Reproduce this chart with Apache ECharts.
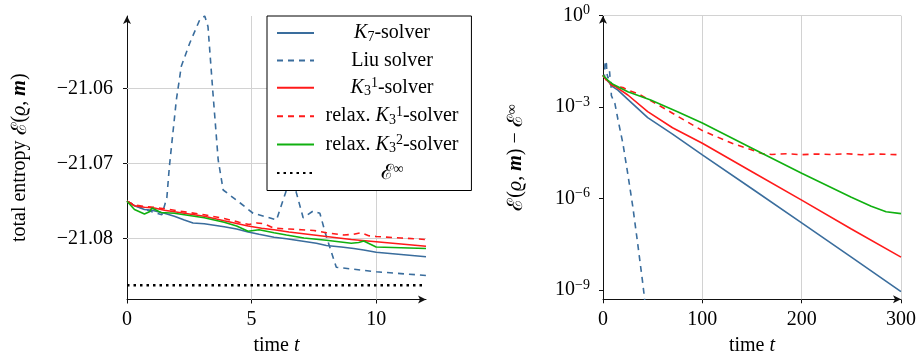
<!DOCTYPE html>
<html>
<head>
<meta charset="utf-8">
<script src="https://cdn.jsdelivr.net/npm/echarts@6/dist/echarts.min.js"></script>
<style>
  html, body { margin: 0; padding: 0; background: #fff; }
  #chart { width: 917px; height: 355px; }
</style>
</head>
<body>
<div id="chart"></div>
<script>
// ---- left panel: total entropy over time t ----
const k7Time = [0, 0.3, 0.7, 1.0, 1.5, 1.9, 2.3, 2.65, 3.1, 3.5, 3.9, 4.4, 4.86, 5.3, 5.9, 6.4, 7.0, 7.6, 8.0, 8.6, 9.1, 9.5, 10.0, 11.0, 12.0];
const k7Entropy = [-21.0750, -21.0756, -21.0761, -21.0762, -21.0766, -21.0770, -21.0775, -21.0779, -21.0780, -21.0782, -21.0784, -21.0787, -21.0791, -21.0794, -21.0798, -21.0800, -21.0803, -21.0806, -21.0809, -21.0811, -21.0813, -21.0815, -21.0818, -21.0821, -21.0824];

const liuTime = [0, 0.5, 1.0, 1.4, 1.6, 1.7, 1.98, 2.18, 2.52, 2.92, 3.12, 3.25, 3.45, 3.66, 3.86, 4.53, 5.06, 5.6, 6.0, 6.4, 6.6, 6.8, 7.07, 7.47, 7.74, 8.0, 8.4, 10.0, 12.0];
const liuEntropy = [-21.0750, -21.0758, -21.0764, -21.0768, -21.0745, -21.0704, -21.0615, -21.0570, -21.0539, -21.0508, -21.0503, -21.0517, -21.0606, -21.0695, -21.0735, -21.0752, -21.0766, -21.0771, -21.0775, -21.0735, -21.0712, -21.0739, -21.0772, -21.0763, -21.0766, -21.0797, -21.0838, -21.0844, -21.0849];

const k31Time = [0, 0.3, 0.7, 1.1, 1.5, 1.9, 2.5, 3.1, 3.9, 4.86, 5.4, 5.9, 6.5, 7.0, 8.0, 9.0, 10.0, 11.0, 12.0];
const k31Entropy = [-21.0750, -21.0756, -21.0758, -21.0759, -21.0762, -21.0764, -21.0767, -21.0770, -21.0776, -21.0783, -21.0786, -21.0788, -21.0791, -21.0793, -21.0797, -21.0801, -21.0804, -21.0807, -21.0810];

const rk31Time = [0, 0.3, 0.7, 1.1, 1.5, 1.9, 2.5, 3.1, 3.9, 4.5, 4.9, 5.2, 5.5, 5.9, 6.5, 7.0, 7.5, 8.0, 8.7, 9.1, 9.4, 9.7, 10.0, 11.0, 12.0];
const rk31Entropy = [-21.0750, -21.0755, -21.0757, -21.0758, -21.0760, -21.0762, -21.0765, -21.0768, -21.0773, -21.0778, -21.0781, -21.0779, -21.0780, -21.0786, -21.0787, -21.0788, -21.0789, -21.0792, -21.0795, -21.0794, -21.0792, -21.0796, -21.0797, -21.0799, -21.0801];

const rk32Time = [0, 0.3, 0.7, 0.9, 1.0, 1.36, 1.9, 2.5, 3.1, 3.9, 4.4, 4.86, 5.3, 5.9, 6.4, 7.1, 8.0, 9.0, 9.3, 9.5, 10.0, 11.0, 12.0];
const rk32Entropy = [-21.0750, -21.0761, -21.0767, -21.0764, -21.0759, -21.0765, -21.0766, -21.0769, -21.0772, -21.0778, -21.0783, -21.0790, -21.0788, -21.0792, -21.0795, -21.0799, -21.0802, -21.0806, -21.0805, -21.0803, -21.0811, -21.0812, -21.0813];

const limitTime = [0, 12];
const limitEntropy = [-21.0862, -21.0862];

const leftXTicks = [0, 5, 10];
const leftYTicks = [-21.08, -21.07, -21.06];

// ---- right panel: entropy minus limit, log scale ----
const k7LogTime = [0, 5, 10, 15, 25, 45, 70, 100, 150, 200, 250, 300];
const k7Gap = [1.1e-2, 7.1e-3, 4.6e-3, 3.6e-3, 1.8e-3, 4.5e-4, 1.3e-4, 2.7e-5, 2.1e-6, 1.6e-7, 1.2e-8, 8.9e-10];

const liuLogTime = [0, 1.4, 2.0, 2.5, 3.1, 3.5, 3.9, 4.5, 5, 6, 6.6, 7.1, 7.5, 8, 8.4, 10, 12, 15, 20, 25, 30, 35, 40, 44];
const liuGap = [1.12e-2, 9.3e-3, 2.45e-2, 3.3e-2, 3.5e-2, 2.6e-2, 1.26e-2, 1.07e-2, 8.9e-3, 8.7e-3, 1.5e-2, 9.1e-3, 1.0e-2, 6.5e-3, 2.4e-3, 1.8e-3, 1.3e-3, 4.0e-4, 6.5e-5, 6.3e-6, 5.4e-7, 3.2e-8, 1.7e-9, 1.3e-10];

const k31LogTime = [0, 5, 10, 25, 45, 70, 100, 150, 200, 250, 300];
const k31Gap = [1.1e-2, 7.1e-3, 5.4e-3, 2.5e-3, 7.1e-4, 2.1e-4, 6.5e-5, 7.6e-6, 8.9e-7, 1.0e-7, 1.2e-8];

const rk31LogTime = [0, 5, 10, 15, 20, 25, 35, 50, 70, 100, 130, 150, 160, 170, 185, 200, 215, 230, 245, 260, 275, 290, 300];
const rk31Gap = [1.1e-2, 6.3e-3, 5.0e-3, 4.7e-3, 4.4e-3, 3.6e-3, 2.8e-3, 1.5e-3, 6.3e-4, 1.7e-4, 6.5e-5, 3.9e-5, 3.0e-5, 2.8e-5, 2.95e-5, 2.75e-5, 2.9e-5, 2.8e-5, 2.95e-5, 2.75e-5, 2.9e-5, 2.8e-5, 2.75e-5];

const rk32LogTime = [0, 5, 10, 25, 48, 75, 100, 150, 200, 250, 270, 285, 300];
const rk32Gap = [1.1e-2, 7.6e-3, 5.6e-3, 3.2e-3, 1.7e-3, 7.1e-4, 3.0e-4, 4.5e-5, 6.8e-6, 1.1e-6, 5.6e-7, 3.7e-7, 3.2e-7];

const rightXTicks = [0, 100, 200, 300];
const rightYTicks = [1e-9, 1e-6, 1e-3, 1];

const BLUE = '#3a6d9d';
const RED = '#ff1a1a';
const GREEN = '#10b010';
const SERIF = '"Liberation Serif", "DejaVu Serif", serif';
const FS = 20;

const zip = (xs, ys) => xs.map((x, i) => [x, ys[i]]);

const rich = {
  t: { fontFamily: SERIF, fontSize: FS, lineHeight: 22, color: '#000', align: 'center' },
  i: { fontFamily: SERIF, fontSize: FS, lineHeight: 22, fontStyle: 'italic', color: '#000', align: 'center' },
  b: { fontFamily: SERIF, fontSize: FS, lineHeight: 22, fontStyle: 'italic', fontWeight: 'bold', color: '#000', align: 'center' },
  s: { fontFamily: SERIF, fontSize: FS + 1, lineHeight: 22, color: '#000', align: 'center' },
  sub: { fontFamily: SERIF, fontSize: 14, verticalAlign: 'bottom', color: '#000', align: 'center' },
  sup: { fontFamily: SERIF, fontSize: 14, verticalAlign: 'top', color: '#000', align: 'center' }
};

const legendNames = {
  'K7': '{i|K}{sub|7}{t|-solver}',
  'Liu': '{t|Liu solver}',
  'K31': '{i|K}{sub|3}{sup|1}{t|-solver}',
  'rK31': '{t|relax. }{i|K}{sub|3}{sup|1}{t|-solver}',
  'rK32': '{t|relax. }{i|K}{sub|3}{sup|2}{t|-solver}',
  'Einf': '{s|ℰ}{sup|∞}'
};

const gridLine = (lines) => ({
  silent: true,
  symbol: ['none', 'none'],
  label: { show: false },
  z: 1,
  animation: false,
  lineStyle: { color: '#d2d2d2', width: 1, type: 'solid' },
  data: lines
});

const axisCommon = {
  axisLine: { show: true, onZero: false, symbol: ['none', 'arrow'], symbolSize: [6, 8], lineStyle: { color: '#111', width: 1 } },
  splitLine: { show: false },
  nameTextStyle: { rich: rich }
};

function line(name, data, color, type, width, x) {
  return {
    name: name, type: 'line', data: data, xAxisIndex: x, yAxisIndex: x,
    symbol: 'none', showSymbol: false, z: 2,
    lineStyle: { color: color, width: width, type: type },
    itemStyle: { color: color }
  };
}

const limitSeries = line('Einf', zip(limitTime, limitEntropy), '#000', [2.5, 4], 2.6, 0);
limitSeries.markLine = gridLine(
  leftXTicks.filter(v => v > 0).map(v => ({ xAxis: v })).concat(leftYTicks.map(v => ({ yAxis: v })))
);
limitSeries.z = 3;

const rightGridSeries = line('K7', zip(k7LogTime, k7Gap), BLUE, 'solid', 1.6, 1);
rightGridSeries.markLine = gridLine(
  rightXTicks.filter(v => v > 0).map(v => ({ xAxis: v })).concat(rightYTicks.map(v => ({ yAxis: v })))
);

const tickLabel = { fontFamily: SERIF, fontSize: FS, color: '#000' };

const option = {
  animation: false,
  backgroundColor: '#fff',
  grid: [
    { left: 127, top: 16, width: 299, height: 283.5, outerBoundsMode: 'none' },
    { left: 603, top: 15.7, width: 298, height: 283.6, outerBoundsMode: 'none' }
  ],
  xAxis: [
    Object.assign({}, axisCommon, {
      type: 'value', gridIndex: 0, min: 0, max: 12,
      name: '{t|time }{i|t}', nameLocation: 'middle', nameGap: 35,
      axisTick: { customValues: leftXTicks, length: 4, lineStyle: { color: '#111' } },
      axisLabel: Object.assign({ customValues: leftXTicks, margin: 10 }, tickLabel)
    }),
    Object.assign({}, axisCommon, {
      type: 'value', gridIndex: 1, min: 0, max: 300,
      name: '{t|time }{i|t}', nameLocation: 'middle', nameGap: 35,
      axisTick: { customValues: rightXTicks, length: 4, lineStyle: { color: '#111' } },
      axisLabel: Object.assign({ customValues: rightXTicks, margin: 10 }, tickLabel)
    })
  ],
  yAxis: [
    Object.assign({}, axisCommon, {
      type: 'value', gridIndex: 0, min: -21.0881, max: -21.0503,
      name: '{t|total entropy }{s|ℰ}{t|(}{i|ϱ}{t|, }{b|m}{t|)}', nameLocation: 'middle', nameGap: 96,
      axisTick: { customValues: leftYTicks, length: 4, lineStyle: { color: '#111' } },
      axisLabel: Object.assign({
        customValues: leftYTicks, margin: 14,
        formatter: v => '−' + Math.abs(v).toFixed(2)
      }, tickLabel)
    }),
    Object.assign({}, axisCommon, {
      type: 'log', logBase: 10, gridIndex: 1, min: 4.95e-10, max: 1,
      name: '{s|ℰ}{t|(}{i|ϱ}{t|, }{b|m}{t|) − }{s|ℰ}{sup|∞}', nameLocation: 'middle', nameGap: 76,
      axisTick: { customValues: rightYTicks, length: 4, lineStyle: { color: '#111' } },
      axisLabel: {
        customValues: rightYTicks, margin: 13,
        formatter: v => {
          const e = Math.round(Math.log10(v));
          return '{b|10}{s|' + (e < 0 ? '−' + (-e) : e) + '}';
        },
        rich: {
          b: { fontFamily: SERIF, fontSize: FS, lineHeight: 24, color: '#000' },
          s: { fontFamily: SERIF, fontSize: 14, verticalAlign: 'top', color: '#000' }
        }
      }
    })
  ],
  legend: {
    orient: 'vertical', left: 267, top: 16,
    padding: [7, 13, 7, 9], itemGap: 6.4, itemWidth: 37, itemHeight: 22,
    backgroundColor: '#fff', borderColor: '#000', borderWidth: 1,
    selectedMode: false,
    itemStyle: { opacity: 0 },
    data: ['K7', 'Liu', 'K31', 'rK31', 'rK32', 'Einf'],
    formatter: name => legendNames[name],
    textStyle: { width: 146, rich: rich }
  },
  series: [
    limitSeries,
    line('K7', zip(k7Time, k7Entropy), BLUE, 'solid', 1.6, 0),
    line('Liu', zip(liuTime, liuEntropy), BLUE, [6, 5], 1.6, 0),
    line('K31', zip(k31Time, k31Entropy), RED, 'solid', 1.6, 0),
    line('rK31', zip(rk31Time, rk31Entropy), RED, [6, 5], 1.6, 0),
    line('rK32', zip(rk32Time, rk32Entropy), GREEN, 'solid', 1.6, 0),
    rightGridSeries,
    line('Liu', zip(liuLogTime, liuGap), BLUE, [6, 5], 1.6, 1),
    line('K31', zip(k31LogTime, k31Gap), RED, 'solid', 1.6, 1),
    line('rK31', zip(rk31LogTime, rk31Gap), RED, [6, 5], 1.6, 1),
    line('rK32', zip(rk32LogTime, rk32Gap), GREEN, 'solid', 1.6, 1)
  ]
};

const myChart = echarts.init(document.getElementById('chart'));
myChart.setOption(option);
</script>
</body>
</html>
